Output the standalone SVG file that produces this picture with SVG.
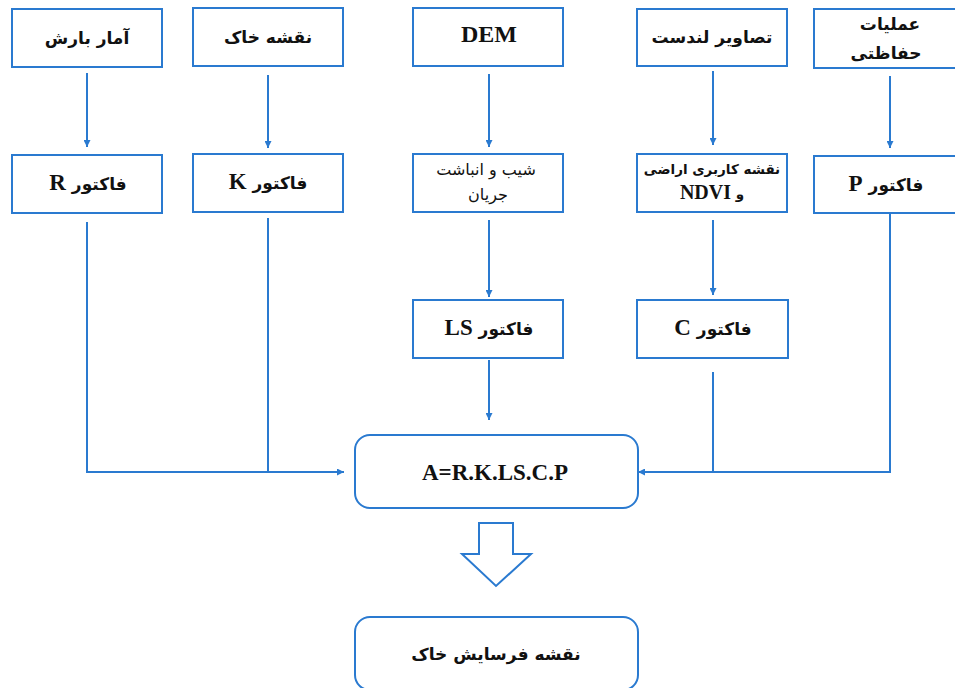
<svg xmlns="http://www.w3.org/2000/svg" width="955" height="688" viewBox="0 0 955 688">
<defs>
<marker id="ah" viewBox="0 0 10 10" refX="10" refY="5" markerWidth="8" markerHeight="7" orient="auto" markerUnits="userSpaceOnUse">
<path d="M0,0 L10,5 L0,10 z" fill="#2a7ad0"/>
</marker>
<style>
.box{fill:#fff;stroke:#2a7ad0;stroke-width:2}
.ln{fill:none;stroke:#2a7ad0;stroke-width:2}
text{fill:#111;text-anchor:middle}
.fa{font-family:"DejaVu Sans",sans-serif;font-weight:bold;font-size:17px}
.en{font-family:"Liberation Serif",serif;font-weight:bold;font-size:23px}
.s{font-family:"DejaVu Sans",sans-serif;font-size:16px}
.sb{font-family:"DejaVu Sans",sans-serif;font-weight:bold;font-size:13.5px}
.nd{font-family:"Liberation Serif",serif;font-weight:bold;font-size:20px}
</style>
</defs>
<rect width="955" height="688" fill="#fff"/>
<g id="connectors">
<line class="ln" x1="87" y1="73" x2="87" y2="147" marker-end="url(#ah)"/>
<line class="ln" x1="268" y1="75" x2="268" y2="148" marker-end="url(#ah)"/>
<line class="ln" x1="489" y1="74" x2="489" y2="147" marker-end="url(#ah)"/>
<line class="ln" x1="713" y1="71" x2="713" y2="145" marker-end="url(#ah)"/>
<line class="ln" x1="890" y1="76" x2="890" y2="148" marker-end="url(#ah)"/>
<line class="ln" x1="489" y1="220" x2="489" y2="297" marker-end="url(#ah)"/>
<line class="ln" x1="713" y1="220" x2="713" y2="295" marker-end="url(#ah)"/>
<line class="ln" x1="489" y1="360" x2="489" y2="420" marker-end="url(#ah)"/>
<polyline class="ln" points="87,222 87,472 344,472" marker-end="url(#ah)"/>
<line class="ln" x1="268" y1="218" x2="268" y2="472"/>
<polyline class="ln" points="890,213 890,472 638,472" marker-end="url(#ah)"/>
<line class="ln" x1="713" y1="372" x2="713" y2="472"/>
<path class="ln" d="M479,523 H513 V554 H531 L496,586 L462,554 H479 Z"/>
</g>
<g id="n-rain"><rect class="box" x="12" y="9" width="150" height="58"/><text class="fa" x="87" y="44" direction="rtl">آمار بارش</text></g>
<g id="n-soil"><rect class="box" x="193" y="8" width="150" height="58"/><text class="fa" x="268" y="43" direction="rtl">نقشه خاک</text></g>
<g id="n-dem"><rect class="box" x="413" y="8" width="150" height="58"/><text class="en" x="489" y="42" style="font-size:24px">DEM</text></g>
<g id="n-landsat"><rect class="box" x="637" y="9" width="150" height="57"/><text class="fa" x="712" y="43" direction="rtl">تصاویر لندست</text></g>
<g id="n-cons"><rect class="box" x="814" y="9" width="150" height="59"/><text class="fa" x="890" y="30" direction="rtl">عملیات</text><text class="fa" x="886" y="59" direction="rtl">حفاظتی</text></g>
<g id="n-r"><rect class="box" x="12" y="155" width="150" height="58"/><text x="88" y="190" direction="rtl"><tspan class="fa">فاکتور </tspan><tspan class="en">R</tspan></text></g>
<g id="n-k"><rect class="box" x="193" y="154" width="150" height="58"/><text x="268" y="189" direction="rtl"><tspan class="fa">فاکتور </tspan><tspan class="en">K</tspan></text></g>
<g id="n-slope"><rect class="box" x="413" y="154" width="150" height="58"/><text class="s" x="486" y="175" direction="rtl">شیب و انباشت</text><text class="s" x="488" y="200" direction="rtl">جریان</text></g>
<g id="n-landuse"><rect class="box" x="637" y="154" width="150" height="58"/><text class="sb" x="712" y="174" direction="rtl">نقشه کاربری اراضی</text><text x="712" y="199" direction="rtl"><tspan class="sb">و </tspan><tspan class="nd">NDVI</tspan></text></g>
<g id="n-p"><rect class="box" x="814" y="156" width="150" height="57"/><text x="886" y="191" direction="rtl"><tspan class="fa">فاکتور </tspan><tspan class="en">P</tspan></text></g>
<g id="n-ls"><rect class="box" x="413" y="300" width="150" height="58"/><text x="489" y="335" direction="rtl"><tspan class="fa">فاکتور </tspan><tspan class="en">LS</tspan></text></g>
<g id="n-c"><rect class="box" x="637" y="300" width="151" height="58"/><text x="713" y="335" direction="rtl"><tspan class="fa">فاکتور </tspan><tspan class="en">C</tspan></text></g>
<g id="n-usle"><rect class="box" x="355" y="435" width="283" height="73" rx="15"/><text class="en" x="495" y="480">A=R.K.LS.C.P</text></g>
<g id="n-map"><rect class="box" x="355" y="617" width="283" height="73" rx="15"/><text class="fa" x="496" y="660" direction="rtl">نقشه فرسایش خاک</text></g>
</svg>
